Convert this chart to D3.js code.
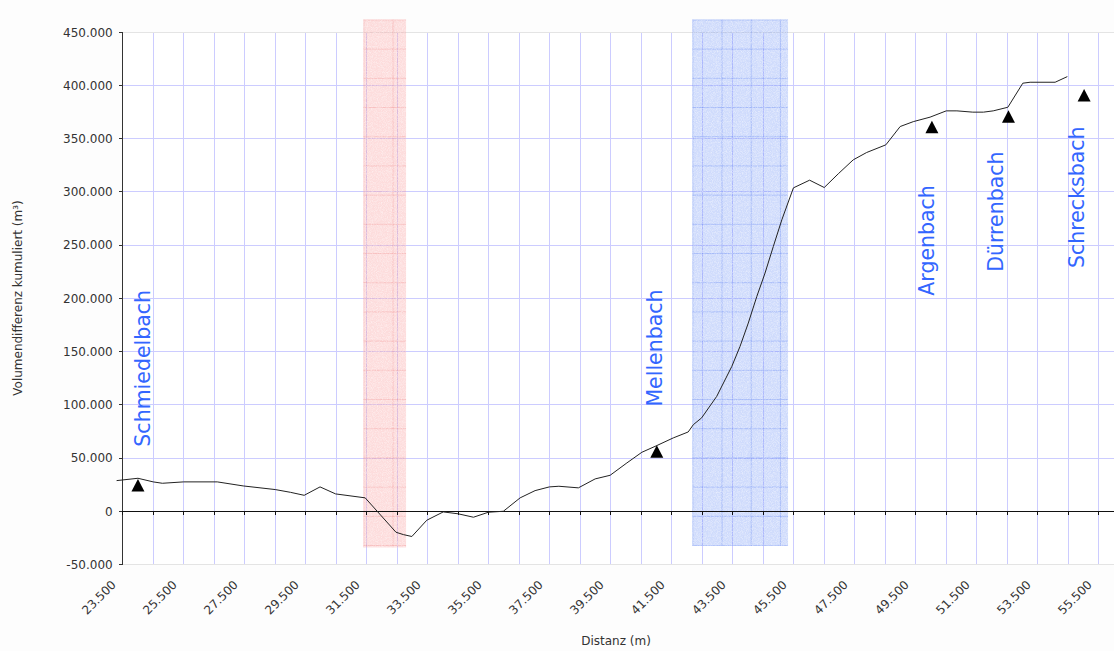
<!DOCTYPE html>
<html>
<head>
<meta charset="utf-8">
<script src="https://cdn.jsdelivr.net/npm/d3@7"></script>
<style>
  html, body { margin: 0; padding: 0; background: #ffffff; }
  svg { display: block; }
  text { font-family: "DejaVu Sans", Verdana, sans-serif; }
</style>
</head>
<body>
<svg id="chart" width="1114" height="651"></svg>
<script>
// ---- data ----
const distance = [23300, 24000, 24500, 24800, 25500, 26600, 27450, 28500, 29000, 29450, 29970, 30480, 31450,
  32460, 32700, 32980, 33470, 34010, 34500, 35000, 35490, 35980, 36530, 37020, 37490, 37800, 38440, 38990,
  39480, 40030, 40520, 41010, 41550, 42040, 42210, 42480, 42975, 43470, 43740, 44010, 44290, 44560, 44830,
  45110, 45490, 46020, 46500, 46960, 47450, 47890, 48520, 48990, 49420, 49970, 50500, 50850, 51370, 51720,
  52040, 52520, 53010, 53250, 54070, 54470];
const volume = [28800, 31000, 27600, 26300, 27600, 27600, 23800, 20400, 17800, 15000, 22900, 16300, 12600,
  -19700, -21900, -23700, -8400, -600, -2400, -5600, -900, 0, 12600, 19400, 22900, 23500, 22000, 30400,
  33800, 45400, 55400, 61700, 68900, 74500, 81400, 87700, 107900, 136100, 154900, 176800, 201800, 223800, 248700,
  273800, 303800, 311000, 304100, 317000, 330100, 337000, 344200, 361400, 366000, 370200, 376100, 376100, 374900, 374900,
  376100, 379500, 402100, 403000, 403000, 408300];

const streamNames = ["Schmiedelbach", "Mellenbach", "Argenbach", "Dürrenbach", "Schrecksbach"];
const streamDist = [24000, 41010, 50030, 52540, 55020];
const streamVol = [24100, 56000, 360700, 370500, 390600];
const labelDist = [24395, 41180, 50090, 52370, 55010];
const labelVol = [60700, 98300, 202500, 225000, 228500];

const bandStart = [31390, 42175];
const bandEnd = [32790, 45313];
const bandHigh = [462000, 462000];
const bandLow = [-34000, -32500];
const bandColors = ["pink", "blue"];

const yTicks = [-50000, 0, 50000, 100000, 150000, 200000, 250000, 300000, 350000, 400000, 450000];
const xTicksMinor = d3.range(23500, 56000, 1000);
const xTickLabels = d3.range(23500, 56000, 2000);

const xTitle = "Distanz (m)";
const yTitle = "Volumendifferenz kumuliert (m³)";

// ---- setup ----
const svg = d3.select("#chart");
const W = 1114, H = 651;
const pLeft = 122.7, pRight = 1114, pTop = 32.2, pBottom = 564.5;

const x = d3.scaleLinear().domain([23500, 56000]).range([pLeft, pRight]);
const y = d3.scaleLinear().domain([-50000, 450000]).range([pBottom, pTop]);

const de = d3.formatLocale({ decimal: ",", thousands: ".", grouping: [3], currency: ["", " €"], minus: "-" });
const fmt = de.format(",d");

svg.append("rect").attr("width", W).attr("height", H).attr("fill", "#fdfdfd");
svg.append("rect").attr("x", pLeft).attr("y", pTop).attr("width", pRight - pLeft).attr("height", pBottom - pTop).attr("fill", "#ffffff");

// gridlines
const grid = svg.append("g");
grid.selectAll("line.v").data(xTicksMinor.slice(1)).join("line")
  .attr("x1", d => x(d)).attr("x2", d => x(d)).attr("y1", pTop).attr("y2", pBottom)
  .attr("stroke", "#ccccff").attr("stroke-width", 1).attr("shape-rendering", "crispEdges");
grid.selectAll("line.h").data(yTicks.filter(t => t > -50000 && t < 450000)).join("line")
  .attr("x1", pLeft).attr("x2", pRight).attr("y1", d => y(d)).attr("y2", d => y(d))
  .attr("stroke", "#ccccff").attr("stroke-width", 1).attr("shape-rendering", "crispEdges");
[450000, -50000].forEach(v => {
  grid.append("line").attr("x1", pLeft).attr("x2", pRight).attr("y1", y(v)).attr("y2", y(v))
    .attr("stroke", "#e4e4e4").attr("stroke-width", 1).attr("shape-rendering", "crispEdges");
});

// band patterns
const defs = svg.append("defs");
const bandStyle = {
  pink: { base: "rgba(250,150,150,0.33)", line: "rgba(240,130,130,0.3)" },
  blue: { base: "rgba(95,135,245,0.30)", line: "rgba(70,110,240,0.3)" }
};
const noise = defs.append("filter").attr("id", "speckle").attr("x", 0).attr("y", 0).attr("width", 1).attr("height", 1);
noise.append("feTurbulence").attr("type", "fractalNoise").attr("baseFrequency", 1.2).attr("numOctaves", 1).attr("seed", 3).attr("result", "n");
noise.append("feColorMatrix").attr("in", "n").attr("type", "matrix")
  .attr("values", "0 0 0 0 1  0 0 0 0 1  0 0 0 0 1  0 0 0 -2.2 1.35").attr("result", "w");
noise.append("feComposite").attr("in", "w").attr("in2", "SourceGraphic").attr("operator", "in");

bandStart.forEach((s, i) => {
  const st = bandStyle[bandColors[i]];
  const bx = x(s), by = y(bandHigh[i]);
  const p = defs.append("pattern").attr("id", "pat" + i).attr("patternUnits", "userSpaceOnUse")
    .attr("x", bx).attr("y", by).attr("width", 29.2).attr("height", 29.2);
  p.append("rect").attr("width", 29.2).attr("height", 29.2).attr("fill", st.base);
  p.append("line").attr("x1", 0).attr("x2", 29.2).attr("y1", 0.5).attr("y2", 0.5).attr("stroke", st.line);
  p.append("line").attr("x1", 0.5).attr("x2", 0.5).attr("y1", 0).attr("y2", 29.2).attr("stroke", st.line);
});
const bands = svg.append("g");
bandStart.forEach((s, i) => {
  const rx = x(s), ry = y(bandHigh[i]), rw = x(bandEnd[i]) - x(s), rh = y(bandLow[i]) - y(bandHigh[i]);
  bands.append("rect").attr("x", rx).attr("y", ry).attr("width", rw).attr("height", rh)
    .attr("fill", "url(#pat" + i + ")");
  bands.append("rect").attr("x", rx).attr("y", ry).attr("width", rw).attr("height", rh)
    .attr("fill", "#ffffff").attr("filter", "url(#speckle)").attr("opacity", 0.5);
});

// axes
const axes = svg.append("g");
axes.append("line").attr("x1", x(23500)).attr("x2", x(23500)).attr("y1", pTop).attr("y2", pBottom)
  .attr("stroke", "#333").attr("stroke-width", 1).attr("shape-rendering", "crispEdges");
axes.selectAll("line.yt").data(yTicks).join("line")
  .attr("x1", x(23500) - 4).attr("x2", x(23500)).attr("y1", d => y(d)).attr("y2", d => y(d))
  .attr("stroke", "#333").attr("shape-rendering", "crispEdges");
axes.selectAll("text.yl").data(yTicks).join("text")
  .attr("x", x(23500) - 10).attr("y", d => y(d)).attr("dy", "0.36em")
  .attr("text-anchor", "end").attr("font-size", 12).attr("fill", "#333")
  .text(d => fmt(d));
axes.append("line").attr("x1", pLeft).attr("x2", pRight).attr("y1", y(0)).attr("y2", y(0))
  .attr("stroke", "#111").attr("stroke-width", 1).attr("shape-rendering", "crispEdges");
axes.selectAll("line.xt").data(xTicksMinor).join("line")
  .attr("x1", d => x(d)).attr("x2", d => x(d)).attr("y1", y(0)).attr("y2", y(0) + 4)
  .attr("stroke", "#111").attr("shape-rendering", "crispEdges");
axes.selectAll("text.xl").data(xTickLabels).join("text")
  .attr("transform", d => `translate(${x(d) - 6},${pBottom + 21}) rotate(-45)`)
  .attr("text-anchor", "end").attr("font-size", 12).attr("fill", "#333")
  .text(d => fmt(d));

// titles
svg.append("text").attr("transform", `translate(22,298) rotate(-90)`)
  .attr("text-anchor", "middle").attr("font-size", 12).attr("fill", "#333").text(yTitle);
svg.append("text").attr("x", 616).attr("y", 645)
  .attr("text-anchor", "middle").attr("font-size", 12).attr("fill", "#333").text(xTitle);

// line
const pts = distance.map((d, i) => [d, volume[i]]);
svg.append("path").datum(pts)
  .attr("d", d3.line().x(d => x(d[0])).y(d => y(d[1])))
  .attr("fill", "none").attr("stroke", "#222").attr("stroke-width", 1);

// markers
const tri = (cx, cy) => `M${cx},${cy - 6.5}L${cx + 6.5},${cy + 6}L${cx - 6.5},${cy + 6}Z`;
svg.selectAll("path.m").data(streamNames).join("path")
  .attr("d", (n, i) => tri(x(streamDist[i]), y(streamVol[i])))
  .attr("fill", "#000");

// stream labels
svg.selectAll("text.s").data(streamNames).join("text")
  .attr("transform", (n, i) => `translate(${x(labelDist[i])},${y(labelVol[i])}) rotate(-90)`)
  .attr("font-size", 20.5).attr("fill", "#3366ff")
  .text(n => n);
</script>
</body>
</html>
